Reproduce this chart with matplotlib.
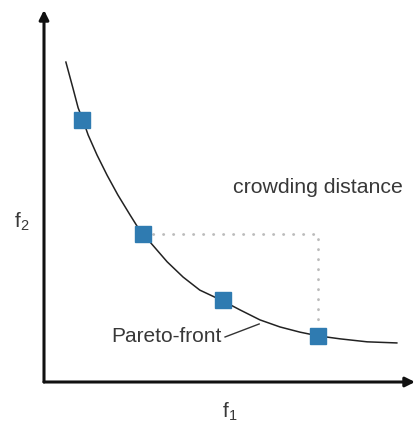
import matplotlib
matplotlib.use('Agg')
import matplotlib.pyplot as plt

# Pareto front (f1, f2)
front_f1 = [0.59, 0.78, 0.92, 1.05, 1.19, 1.43, 1.70, 1.99, 2.32, 2.64, 2.86, 3.32,
            3.75, 4.20, 4.82, 5.28, 5.82, 6.36, 6.90, 7.39, 7.98, 8.71, 9.51]
front_f2 = [8.60, 7.90, 7.37, 7.04, 6.64, 6.10, 5.56, 5.03, 4.49, 3.98, 3.76, 3.23,
            2.82, 2.47, 2.18, 1.94, 1.67, 1.48, 1.34, 1.24, 1.16, 1.08, 1.05]

# solutions on the front
sol_f1 = [1.02, 2.67, 4.82, 7.39]
sol_f2 = [7.04, 3.98, 2.20, 1.24]

plt.rcParams['font.family'] = ['Liberation Sans', 'DejaVu Sans']
txt = '#383838'
blue = '#2f7bb1'

fig = plt.figure(figsize=(4.17, 4.29), dpi=100)
ax = fig.add_axes([44 / 417, 47 / 429, 371 / 417, 372 / 429])
ax.set_xlim(0, 10)
ax.set_ylim(0, 10)
ax.axis('off')

# axes with arrow heads
arrow = dict(arrowstyle='-|>', lw=2.2, color='#111111', mutation_scale=14,
             shrinkA=0, shrinkB=0)
ax.annotate('', xy=(0, 10), xytext=(0, 0), arrowprops=arrow, annotation_clip=False)
ax.annotate('', xy=(10, 0), xytext=(0, 0), arrowprops=arrow, annotation_clip=False)

ax.plot(front_f1, front_f2, color='#222222', lw=1.1, solid_joinstyle='round')

# crowding distance box (to the next neighbour)
ax.plot([sol_f1[1], sol_f1[3], sol_f1[3]], [sol_f2[1], sol_f2[1], sol_f2[3]],
        color='#bbbbbb', lw=2, linestyle=(0, (0.1, 3.5)), dash_capstyle='round')

ax.plot(sol_f1, sol_f2, 's', color=blue, markersize=11.5, zorder=5)

ax.text(7.39, 5.24, 'crowding distance', ha='center', va='center', fontsize=15.3, color=txt)
ax.text(4.80, 1.21, 'Pareto-front', ha='right', va='center', fontsize=15, color=txt)
ax.plot([4.88, 5.80], [1.21, 1.56], color='#333333', lw=1)

ax.text(-0.59, 4.30, r'f$_\mathregular{2}$', ha='center', va='center', fontsize=15, color=txt)
ax.text(5.01, -0.81, r'f$_\mathregular{1}$', ha='center', va='center', fontsize=15, color=txt)

fig.savefig('out.png', dpi=100)
